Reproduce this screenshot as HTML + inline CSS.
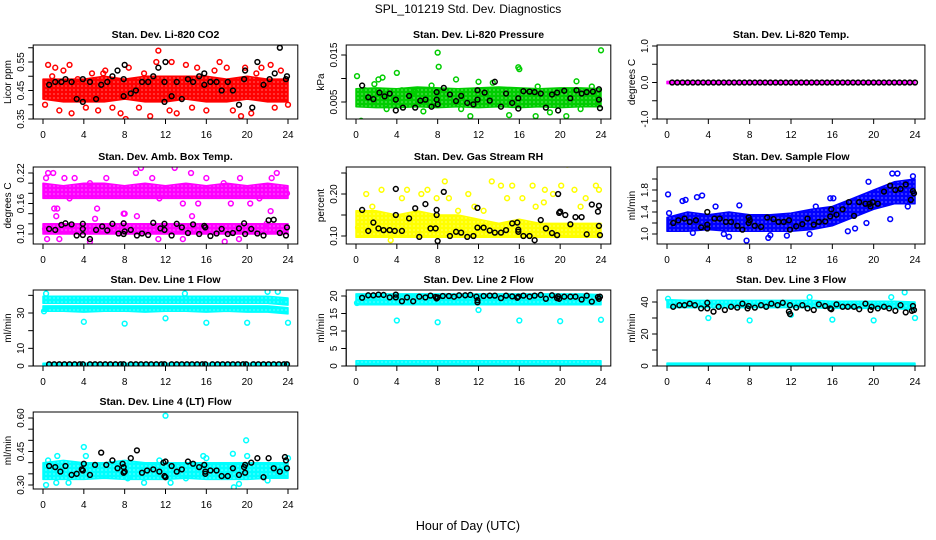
<!DOCTYPE html>
<html><head><meta charset="utf-8"><style>
html,body{margin:0;padding:0;background:#fff;}
svg{display:block;font-family:"Liberation Sans",Arial,sans-serif;}
</style></head><body>
<svg id="chart" width="936" height="540" viewBox="0 0 936 540">
<defs id="defs"></defs>
<text x="468" y="13" text-anchor="middle" font-size="12">SPL_101219  Std. Dev. Diagnostics</text>
<text x="468" y="530" text-anchor="middle" font-size="12.5">Hour of Day (UTC)</text>
</svg>
<script>
// ---------- data ----------
const bandHours = [0,2,4,6,8,10,12,14,16,18,20,22,24];
const xTicks = [0,4,8,12,16,20,24];

const co2BandLo = [0.42,0.41,0.41,0.41,0.42,0.41,0.41,0.42,0.41,0.41,0.42,0.41,0.41];
const co2BandHi = [0.49,0.49,0.49,0.50,0.49,0.50,0.50,0.50,0.50,0.49,0.50,0.49,0.49];
const co2Color = [[0.2,0.40],[0.5,0.54],[1.2,0.53],[1.6,0.38],[2.0,0.52],[2.6,0.54],[2.8,0.37],[3.4,0.49],[4.2,0.39],[4.8,0.51],[5.4,0.38],[6.1,0.52],[6.8,0.39],[7.6,0.37],[8.1,0.35],[8.4,0.53],[9.4,0.39],[10.5,0.36],[11.1,0.55],[11.3,0.59],[12.4,0.38],[12.6,0.55],[13.1,0.37],[14.0,0.54],[14.6,0.39],[15.1,0.53],[16.0,0.38],[17.3,0.55],[18.0,0.53],[18.6,0.38],[19.4,0.36],[19.8,0.53],[20.4,0.37],[21.4,0.53],[22.3,0.54],[22.7,0.39],[23.3,0.52],[24.0,0.40],[0.9,0.50],[5.9,0.51],[9.9,0.51],[16.8,0.52],[20.9,0.51]];
const co2Black = [[0.6,0.47],[1.2,0.48],[1.8,0.48],[2.2,0.49],[2.8,0.48],[3.3,0.42],[3.9,0.49],[3.9,0.41],[4.6,0.48],[5.2,0.42],[5.7,0.47],[6.3,0.48],[6.8,0.50],[7.3,0.52],[7.9,0.49],[8.0,0.54],[7.9,0.43],[8.6,0.44],[9.1,0.45],[9.7,0.48],[10.3,0.48],[10.8,0.50],[11.3,0.53],[11.9,0.48],[11.9,0.41],[12.0,0.55],[12.6,0.43],[13.1,0.48],[13.6,0.42],[14.2,0.49],[14.7,0.48],[15.3,0.50],[15.8,0.51],[15.8,0.47],[16.4,0.48],[17.0,0.48],[17.5,0.45],[18.1,0.48],[18.6,0.45],[19.2,0.40],[19.7,0.49],[19.8,0.52],[20.5,0.39],[21.0,0.55],[21.6,0.47],[22.2,0.49],[22.7,0.51],[23.2,0.60],[23.8,0.49],[23.9,0.50]];

const presBandLo = [0.0040,0.0038,0.0038,0.0040,0.0038,0.0040,0.0038,0.0040,0.0038,0.0040,0.0038,0.0040,0.0040];
const presBandHi = [0.0078,0.0080,0.0078,0.0082,0.0080,0.0078,0.0080,0.0082,0.0080,0.0078,0.0080,0.0080,0.0078];
const presColor = [[0.1,0.0105],[0.5,0.001],[0.9,0.0075],[1.8,0.0088],[2.2,0.0098],[2.6,0.0102],[4.0,0.0112],[4.5,0.0075],[5.8,0.0072],[7.4,0.0085],[8.0,0.0155],[8.1,0.0125],[9.8,0.0098],[10.3,0.0035],[11.2,0.0020],[12.0,0.0093],[13.4,0.0091],[15.0,0.0022],[15.9,0.0124],[16.0,0.0120],[17.6,0.0020],[17.8,0.0083],[20.6,0.0020],[21.6,0.0094],[23.1,0.0083],[24.0,0.0160],[22.0,0.0035],[3.0,0.0035],[6.6,0.0030],[19.0,0.0028]];
const presBlack = [[0.6,0.0085],[1.2,0.0060],[1.7,0.0056],[2.3,0.0070],[2.8,0.0062],[3.3,0.0068],[3.9,0.0055],[3.9,0.0032],[4.6,0.0038],[5.2,0.0063],[5.8,0.0038],[6.3,0.0053],[6.8,0.0055],[7.4,0.0040],[7.9,0.0071],[7.9,0.0055],[8.0,0.0045],[8.6,0.0080],[9.2,0.0066],[9.8,0.0052],[10.3,0.0063],[10.9,0.0048],[11.5,0.0045],[11.9,0.0075],[11.9,0.0055],[12.6,0.0070],[13.1,0.0053],[13.6,0.0093],[14.2,0.0040],[14.7,0.0068],[15.3,0.0048],[15.9,0.0058],[15.9,0.0036],[16.4,0.0073],[17.0,0.0072],[17.5,0.0071],[18.1,0.0068],[18.6,0.0038],[19.2,0.0066],[19.7,0.0070],[19.8,0.0032],[20.4,0.0074],[21.0,0.0058],[21.6,0.0075],[22.1,0.0068],[22.6,0.0071],[23.2,0.0072],[23.8,0.0077],[23.8,0.0055],[23.9,0.0037]];

const tempBandLo = [-0.03,-0.03,-0.03,-0.03,-0.03,-0.03,-0.03,-0.03,-0.03,-0.03,-0.03,-0.03,-0.03];
const tempBandHi = [0.03,0.03,0.03,0.03,0.03,0.03,0.03,0.03,0.03,0.03,0.03,0.03,0.03];
const tempBlackX = [0.5,1,1.5,2,2.5,3,3.5,4,4.5,5,5.5,6,6.5,7,7.5,8,8.5,9,9.5,10,10.5,11,11.5,12,12.5,13,13.5,14,14.5,15,15.5,16,16.5,17,17.5,18,18.5,19,19.5,20,20.5,21,21.5,22,22.5,23,23.5,24];
const tempBlackY = [0,0,0,0,0,0,0,0,0,0,0,0,0,0,0,0,0,0,0,0,0,0,0,0,0,0,0,0,0,0,0,0,0,0,0,0,0,0,0,0,0,0,0,0,0,0,0,0];

const ambBandHiLo = [0.17,0.17,0.17,0.17,0.17,0.17,0.17,0.17,0.17,0.17,0.17,0.17,0.17];
const ambBandHiHi = [0.20,0.195,0.20,0.20,0.195,0.20,0.195,0.20,0.195,0.20,0.195,0.20,0.195];
const ambBandLoLo = [0.10,0.10,0.10,0.10,0.10,0.10,0.10,0.10,0.10,0.10,0.10,0.10,0.10];
const ambBandLoHi = [0.12,0.12,0.12,0.12,0.12,0.12,0.12,0.12,0.12,0.12,0.12,0.12,0.12];
const ambColor = [[0.3,0.21],[0.5,0.22],[1.0,0.22],[1.4,0.15],[1.1,0.15],[2.1,0.21],[2.6,0.17],[3.1,0.21],[4.6,0.20],[5.3,0.15],[6.2,0.21],[7.9,0.14],[9.1,0.22],[9.6,0.23],[10.7,0.21],[11.4,0.17],[12.9,0.23],[13.7,0.16],[14.5,0.22],[15.2,0.16],[16.0,0.21],[17.7,0.20],[18.4,0.16],[19.3,0.21],[20.3,0.16],[21.2,0.17],[22.4,0.21],[22.9,0.22],[23.9,0.18],[1.3,0.135],[8.0,0.14],[14.6,0.135],[9.2,0.135],[22.3,0.145],[0.2,0.11],[0.4,0.09],[1.6,0.09],[4.6,0.085],[5.1,0.13],[7.9,0.12],[11.3,0.09],[13.7,0.09],[17.8,0.085],[19.2,0.09],[21.9,0.12]];
const ambBlack = [[0.6,0.11],[1.2,0.108],[1.8,0.118],[2.2,0.121],[2.8,0.119],[3.3,0.097],[3.9,0.12],[3.9,0.11],[3.9,0.098],[4.6,0.09],[5.2,0.108],[5.8,0.115],[6.3,0.107],[6.8,0.12],[7.4,0.101],[7.9,0.121],[7.9,0.1],[8.0,0.105],[8.6,0.108],[9.2,0.097],[9.7,0.101],[10.3,0.098],[10.8,0.122],[11.5,0.111],[11.9,0.12],[11.9,0.108],[12.6,0.097],[13.1,0.12],[13.6,0.113],[14.2,0.102],[14.7,0.119],[15.3,0.1],[15.8,0.116],[15.9,0.113],[16.4,0.096],[17.0,0.101],[17.5,0.11],[18.1,0.1],[18.6,0.102],[19.2,0.111],[19.7,0.121],[19.8,0.1],[20.4,0.11],[21.0,0.101],[21.6,0.097],[22.1,0.127],[22.6,0.128],[23.2,0.102],[23.8,0.097],[23.9,0.113]];

const rhBandLo = [0.097,0.097,0.097,0.097,0.097,0.097,0.097,0.097,0.097,0.097,0.097,0.097,0.097];
const rhBandHi = [0.16,0.16,0.15,0.16,0.15,0.15,0.14,0.13,0.14,0.13,0.13,0.13,0.13];
const rhColor = [[0.2,0.12],[1.0,0.20],[1.6,0.17],[2.5,0.21],[3.4,0.09],[4.5,0.19],[5.0,0.21],[6.4,0.20],[7.0,0.21],[7.9,0.19],[8.7,0.23],[9.1,0.19],[10.0,0.16],[11.0,0.2],[11.6,0.17],[13.3,0.23],[14.2,0.22],[14.8,0.19],[15.3,0.22],[16.3,0.19],[17.3,0.22],[17.6,0.17],[18.5,0.21],[19.3,0.2],[20.1,0.22],[20.7,0.27],[21.4,0.21],[22.0,0.17],[22.5,0.19],[23.5,0.22],[23.8,0.21],[12.5,0.16],[18.4,0.18]];
const rhBlack = [[0.6,0.162],[1.2,0.112],[1.7,0.132],[2.2,0.118],[2.7,0.114],[3.3,0.114],[3.8,0.112],[3.9,0.15],[3.9,0.212],[4.5,0.112],[5.2,0.142],[5.8,0.166],[6.2,0.098],[6.8,0.176],[7.3,0.118],[7.8,0.118],[7.9,0.162],[7.9,0.15],[8.0,0.088],[8.6,0.205],[9.2,0.1],[9.8,0.11],[10.3,0.108],[10.9,0.098],[11.5,0.1],[11.9,0.167],[11.9,0.12],[12.5,0.12],[13.1,0.113],[13.6,0.108],[14.2,0.108],[14.7,0.114],[15.3,0.13],[15.8,0.132],[15.9,0.115],[15.9,0.11],[16.4,0.1],[17.0,0.1],[17.5,0.09],[18.1,0.138],[18.6,0.118],[19.2,0.107],[19.7,0.102],[19.8,0.2],[19.9,0.155],[20.0,0.158],[20.5,0.15],[21.0,0.128],[21.5,0.145],[22.1,0.145],[22.6,0.104],[23.1,0.175],[23.7,0.158],[23.8,0.172],[23.8,0.124],[23.9,0.102]];

const flowBandLo = [1.05,1.05,1.08,1.05,1.05,1.05,1.05,1.08,1.15,1.3,1.45,1.55,1.55];
const flowBandHi = [1.3,1.4,1.35,1.4,1.35,1.35,1.38,1.45,1.5,1.65,1.8,1.95,2.0];
const flowColor = [[0.1,1.72],[0.2,1.38],[1.5,1.6],[1.8,1.62],[2.9,1.67],[3.4,1.7],[4.7,1.5],[6.0,0.95],[7.7,0.88],[7.0,1.52],[9.8,0.93],[10.0,0.98],[11.6,0.97],[14.4,1.5],[15.8,1.65],[16.1,1.65],[18.2,1.1],[19.3,1.2],[19.5,1.95],[21.6,1.27],[21.8,2.1],[22.3,2.1],[23.8,2.05],[23.3,1.5],[17.5,1.05],[13.8,1.0],[5.5,1.0],[2.5,1.02]];
const flowBlack = [[0.6,1.2],[1.1,1.25],[1.7,1.28],[2.2,1.22],[2.8,1.25],[3.3,1.12],[3.9,1.1],[3.9,1.17],[3.9,1.4],[4.6,1.28],[5.1,1.28],[5.7,1.22],[6.2,1.22],[6.8,1.15],[7.3,1.08],[7.9,1.3],[7.9,1.2],[8.0,1.25],[8.5,1.15],[9.1,1.13],[9.7,1.3],[10.3,1.27],[10.8,1.22],[11.3,1.22],[11.8,1.25],[11.9,1.08],[12.5,1.14],[13.1,1.18],[13.6,1.28],[14.2,1.17],[14.7,1.22],[15.3,1.23],[15.8,1.32],[15.9,1.45],[16.4,1.35],[17.0,1.45],[17.6,1.58],[18.1,1.33],[18.6,1.58],[19.2,1.55],[19.6,1.55],[19.7,1.5],[19.9,1.58],[20.4,1.55],[21.0,1.77],[21.6,1.88],[22.1,1.8],[22.6,1.82],[23.1,1.9],[23.6,1.62],[23.8,1.78],[23.9,1.74]];

const l1BandALo = [35.5,35.5,35.5,35.5,35.5,35.5,35.5,35.5,35.5,35.5,35.5,35.5,34.5];
const l1BandAHi = [39.5,39.5,39.5,39.5,39.5,39.5,39.5,39.5,39.5,39.5,39.5,39.5,38.5];
const l1BandBLo = [31,31,30.5,31,31,30.5,31,31,30.5,31,30.5,30.5,29.5];
const l1BandBHi = [34,34,34,34,34,34,34,34,34,34,34,34,33];
const l1BandZLo = [0.3,0.3,0.3,0.3,0.3,0.3,0.3,0.3,0.3,0.3,0.3,0.3,0.3];
const l1BandZHi = [1.6,1.6,1.6,1.6,1.6,1.6,1.6,1.6,1.6,1.6,1.6,1.6,1.6];
const l1Color = [[0.1,31],[0.3,41],[4.0,25],[8.0,24],[12.0,27],[16.0,24.5],[20.0,24.5],[24.0,24.5],[13.9,41],[22.0,42],[23.0,42],[23.7,36]];
const l1BlackX = [0.6,1.1,1.6,2.1,2.6,3.1,3.6,3.9,4.6,5.1,5.6,6.1,6.6,7.1,7.6,7.9,8.6,9.1,9.6,10.1,10.6,11.1,11.6,11.9,12.6,13.1,13.6,14.1,14.6,15.1,15.6,15.9,16.6,17.1,17.6,18.1,18.6,19.1,19.6,19.9,20.6,21.1,21.6,22.1,22.6,23.1,23.6,23.9];
const l1BlackY = [1,1,1,1,1,1,1,1,1,1,1,1,1,1,1,1,1,1,1,1,1,1,1,1,1,1,1,1,1,1,1,1,1,1,1,1,1,1,1,1,1,1,1,1,1,1,1,1];

const l2BandLo = [17.5,17.5,17.5,17.5,17.5,17.5,17.5,17.5,17.5,17.5,17.5,17.5,17.5];
const l2BandHi = [20.6,20.6,20.6,20.6,20.6,20.6,20.6,20.6,20.6,20.6,20.6,20.6,20.4];
const l2BandZLo = [0.1,0.1,0.1,0.1,0.1,0.1,0.1,0.1,0.1,0.1,0.1,0.1,0.1];
const l2BandZHi = [1.5,1.5,1.5,1.5,1.5,1.5,1.5,1.5,1.5,1.5,1.5,1.5,1.5];
const l2Color = [[0.1,18],[4,13],[8,12.5],[12,16],[16,13],[20,12.8],[24,13.2]];
const l2Black = [[0.6,19.5],[1.2,20.2],[1.7,20.2],[2.2,20.4],[2.7,20.3],[3.3,19.6],[3.9,20.4],[3.9,19.6],[4.5,18.5],[5.0,19.6],[5.6,18.5],[6.2,19.8],[6.8,19.6],[7.3,20.1],[7.8,19.7],[7.9,19.3],[8.0,19.6],[8.5,20],[9.1,20],[9.6,19.8],[10.1,20.2],[10.7,20.2],[11.2,20.3],[11.8,19.8],[11.9,18.8],[11.9,18.2],[12.5,20.0],[13.1,20.1],[13.6,20.1],[14.2,19.4],[14.7,20.1],[15.3,19.9],[15.8,19.5],[15.9,19.8],[16.4,20.1],[17.0,19.8],[17.5,20.1],[18.1,20.3],[18.6,19.2],[19.2,20.2],[19.7,19.4],[19.8,19.9],[19.9,19.2],[20.4,19.8],[21.0,19.8],[21.5,19.8],[22.1,19],[22.6,20.1],[23.1,18.4],[23.7,19.7],[23.8,19.2],[23.9,19.8]];

const l3BandLo = [36.5,36.5,36.5,36.5,36.5,36.5,36.5,36.5,36,36,36,36,35];
const l3BandHi = [41.5,41,41,41,41,41,41,41,40.5,40.5,40.5,40.5,40];
const l3BandZLo = [0.3,0.3,0.3,0.3,0.3,0.3,0.3,0.3,0.3,0.3,0.3,0.3,0.3];
const l3BandZHi = [1.8,1.8,1.8,1.8,1.8,1.8,1.8,1.8,1.8,1.8,1.8,1.8,1.8];
const l3Color = [[0.1,42],[4,30],[8,28.5],[12,32],[16,29],[20,28.5],[24,30],[21.7,43],[23,46],[13.8,43]];
const l3Black = [[0.6,37],[1.2,38],[1.7,38],[2.2,39],[2.7,38],[3.3,36],[3.9,36],[3.9,39.5],[4.5,34],[5.0,37],[5.6,35],[6.2,37],[6.8,36.5],[7.3,39],[7.8,36],[7.9,37.5],[8.5,36.5],[9.1,38],[9.6,37],[10.1,39],[10.7,38],[11.2,39.5],[11.8,34],[11.9,32.5],[11.9,38],[12.5,36.5],[13.1,38],[13.6,36],[14.2,35],[14.7,38.5],[15.3,37.5],[15.8,36],[15.9,35.5],[16.4,38.5],[17.0,37],[17.5,37],[18.1,37],[18.6,35.5],[19.2,39],[19.7,35],[19.8,37],[20.4,36],[21.0,37],[21.5,36],[22.1,34.5],[22.6,38],[23.1,33.5],[23.7,34.5],[23.8,37.5],[23.9,35]];

const l4BandLo = [0.325,0.325,0.325,0.33,0.325,0.325,0.325,0.33,0.325,0.325,0.325,0.33,0.33];
const l4BandHi = [0.40,0.41,0.40,0.40,0.41,0.40,0.40,0.40,0.40,0.40,0.40,0.40,0.40];
const l4Color = [[0.3,0.3],[1.3,0.31],[4.0,0.47],[4.2,0.43],[8.3,0.33],[9.9,0.31],[12.0,0.61],[12.5,0.31],[16.0,0.42],[18.6,0.44],[18.7,0.29],[19.2,0.305],[19.9,0.50],[20.0,0.43],[24.0,0.42],[2.5,0.31],[22,0.32],[14,0.33],[0.5,0.41],[1.4,0.43],[11.4,0.41],[15.7,0.43]];
const l4Black = [[0.6,0.385],[1.2,0.38],[1.7,0.36],[2.2,0.385],[2.8,0.345],[3.3,0.35],[3.8,0.37],[3.9,0.365],[4.0,0.395],[4.6,0.345],[5.1,0.39],[5.7,0.445],[6.2,0.39],[6.8,0.41],[7.3,0.375],[7.8,0.395],[7.9,0.38],[7.9,0.355],[8.0,0.36],[8.6,0.42],[9.2,0.455],[9.7,0.355],[10.2,0.365],[10.8,0.37],[11.4,0.36],[11.8,0.4],[11.9,0.34],[12.0,0.335],[12.0,0.405],[12.6,0.385],[13.1,0.36],[13.6,0.37],[14.2,0.405],[14.7,0.395],[15.3,0.38],[15.8,0.39],[15.9,0.36],[15.9,0.35],[16.4,0.365],[17.0,0.365],[17.5,0.34],[18.1,0.34],[18.6,0.375],[19.2,0.345],[19.7,0.38],[19.8,0.39],[19.8,0.355],[20.4,0.4],[21.0,0.42],[21.6,0.335],[22.1,0.42],[22.6,0.375],[23.2,0.36],[23.7,0.425],[23.8,0.41],[23.9,0.375]];

const zip = (xs, ys) => xs.map((x, i) => [x, ys[i]]);

// ---------- layout ----------
const cols = [{x0:43,x24:288},{x0:356,x24:601},{x0:667,x24:915}];
const rows = [{top:45,bot:119},{top:167,bot:244},{top:290,bot:366},{top:412,bot:489}];

const panels = [
 {name:'co2',title:'Stan. Dev. Li-820 CO2',ylab:'Licor ppm',c:0,r:0,color:'#ff0000',ref:[[0.55,62],[0.35,119]],ticks:[0.35,0.40,0.45,0.50,0.55,0.60],labels:[[0.35,'0.35'],[0.45,'0.45'],[0.55,'0.55']],bands:[[co2BandLo,co2BandHi]],pts:co2Color,blk:co2Black},
 {name:'pressure',title:'Stan. Dev. Li-820 Pressure',ylab:'kPa',c:1,r:0,color:'#00cd00',ref:[[0.015,55],[0.005,102]],ticks:[0.005,0.010,0.015],labels:[[0.005,'0.005'],[0.015,'0.015']],bands:[[presBandLo,presBandHi]],pts:presColor,blk:presBlack},
 {name:'li820-temp',title:'Stan. Dev. Li-820 Temp.',ylab:'degrees C',c:2,r:0,color:'#ff00ff',ref:[[1,46],[-1,119]],ticks:[-1,-0.5,0,0.5,1],labels:[[-1,'-1.0'],[0,'0.0'],[1,'1.0']],bands:[[tempBandLo,tempBandHi]],pts:[],blk:zip(tempBlackX,tempBlackY)},
 {name:'amb-box-temp',title:'Stan. Dev. Amb. Box Temp.',ylab:'degrees C',c:0,r:1,color:'#ff00ff',ref:[[0.22,173],[0.10,234]],ticks:[0.10,0.12,0.14,0.16,0.18,0.20,0.22],labels:[[0.10,'0.10'],[0.16,'0.16'],[0.22,'0.22']],bands:[[ambBandHiLo,ambBandHiHi],[ambBandLoLo,ambBandLoHi]],pts:ambColor,blk:ambBlack},
 {name:'gas-stream-rh',title:'Stan. Dev. Gas Stream RH',ylab:'percent',c:1,r:1,color:'#ffff00',ref:[[0.20,194],[0.10,236]],ticks:[0.10,0.15,0.20,0.25],labels:[[0.10,'0.10'],[0.20,'0.20']],bands:[[rhBandLo,rhBandHi]],pts:rhColor,blk:rhBlack},
 {name:'sample-flow',title:'Stan. Dev. Sample Flow',ylab:'ml/min',c:2,r:1,color:'#0000ff',ref:[[1.8,190],[1.0,234]],ticks:[1.0,1.2,1.4,1.6,1.8,2.0],labels:[[1.0,'1.0'],[1.4,'1.4'],[1.8,'1.8']],bands:[[flowBandLo,flowBandHi]],pts:flowColor,blk:flowBlack},
 {name:'line1-flow',title:'Stan. Dev. Line 1 Flow',ylab:'ml/min',c:0,r:2,color:'#00ffff',ref:[[30,313],[0,366]],ticks:[0,10,20,30,40],labels:[[0,'0'],[10,'10'],[30,'30']],bands:[[l1BandALo,l1BandAHi],[l1BandBLo,l1BandBHi],[l1BandZLo,l1BandZHi]],pts:l1Color,blk:zip(l1BlackX,l1BlackY)},
 {name:'line2-flow',title:'Stan. Dev. Line 2 Flow',ylab:'ml/min',c:1,r:2,color:'#00ffff',ref:[[20,296],[0,366]],ticks:[0,5,10,15,20],labels:[[0,'0'],[5,'5'],[10,'10'],[15,'15'],[20,'20']],bands:[[l2BandLo,l2BandHi],[l2BandZLo,l2BandZHi]],pts:l2Color,blk:l2Black},
 {name:'line3-flow',title:'Stan. Dev. Line 3 Flow',ylab:'ml/min',c:2,r:2,color:'#00ffff',ref:[[40,302],[0,366]],ticks:[0,10,20,30,40],labels:[[0,'0'],[20,'20'],[40,'40']],bands:[[l3BandLo,l3BandHi],[l3BandZLo,l3BandZHi]],pts:l3Color,blk:l3Black},
 {name:'line4-flow',title:'Stan. Dev. Line 4 (LT) Flow',ylab:'ml/min',c:0,r:3,color:'#00ffff',ref:[[0.60,418],[0.30,485]],ticks:[0.30,0.35,0.40,0.45,0.50,0.55,0.60],labels:[[0.30,'0.30'],[0.45,'0.45'],[0.60,'0.60']],bands:[[l4BandLo,l4BandHi]],pts:l4Color,blk:l4Black}
];

const NS = 'http://www.w3.org/2000/svg';
const svg = document.getElementById('chart');
const defs = document.getElementById('defs');
function el(tag, attrs, parent) {
  const e = document.createElementNS(NS, tag);
  for (const k in attrs) e.setAttribute(k, attrs[k]);
  parent.appendChild(e);
  return e;
}
const patterns = {};
function patternFor(color) {
  if (patterns[color]) return patterns[color];
  const id = 'pat' + Object.keys(patterns).length;
  const pat = el('pattern', {id: id, width: 4, height: 4, patternUnits: 'userSpaceOnUse'}, defs);
  el('rect', {x: 0, y: 0, width: 4, height: 4, fill: color}, pat);
  el('rect', {x: 1.5, y: 1.5, width: 1, height: 1, fill: '#fff', 'fill-opacity': 0.8}, pat);
  patterns[color] = id;
  return id;
}

panels.forEach(p => {
  const col = cols[p.c], row = rows[p.r];
  const xs = h => col.x0 + (col.x24 - col.x0) * h / 24;
  const [[v1, p1], [v2, p2]] = p.ref;
  const ys = v => p1 + (v - v1) * (p2 - p1) / (v2 - v1);
  const bx0 = xs(-0.96), bx1 = xs(24.96);
  const g = el('g', {}, svg);
  
  

  const clipId = 'clip-' + p.name;
  const cp = el('clipPath', {id: clipId}, g);
  el('rect', {x: bx0, y: row.top, width: bx1 - bx0, height: row.bot - row.top}, cp);
  const data = el('g', {'clip-path': 'url(#' + clipId + ')'}, g);
  const pid = patternFor(p.color);

  p.bands.forEach(([lo, hi], bi) => {
    const top = bandHours.map((h, i) => xs(h).toFixed(1) + ',' + ys(hi[i]).toFixed(1));
    const bot = bandHours.map((h, i) => xs(h).toFixed(1) + ',' + ys(lo[i]).toFixed(1)).reverse();
    const poly = el('polygon', {points: top.concat(bot).join(' '), fill: 'url(#' + pid + ')', stroke: p.color, 'stroke-width': 1.5, 'stroke-linejoin': 'round'}, data);
    
    
  });
  p.pts.forEach(([h, v]) => {
    const c = el('circle', {cx: xs(h), cy: ys(v), r: 2.4, fill: 'none', stroke: p.color, 'stroke-width': 1.5}, data);
    
    
  });
  p.blk.forEach(([h, v]) => {
    const c = el('circle', {cx: xs(h), cy: ys(v), r: 2.4, fill: 'none', stroke: '#000', 'stroke-width': 1.5}, data);
    
    
  });

  const box = el('rect', {x: bx0, y: row.top, width: bx1 - bx0, height: row.bot - row.top, fill: 'none', stroke: '#000', 'stroke-width': 1}, g);
  
  

  const title = el('text', {x: (bx0 + bx1) / 2, y: row.top - 7, 'text-anchor': 'middle', 'font-size': 10.5, 'font-weight': 'bold'}, g);
  title.textContent = p.title;
  
  

  const xa = el('g', {}, g);
  
  
  el('line', {x1: xs(0), x2: xs(24), y1: row.bot, y2: row.bot, stroke: '#000'}, xa);
  xTicks.forEach(t => {
    el('line', {x1: xs(t), x2: xs(t), y1: row.bot, y2: row.bot + 5, stroke: '#000'}, xa);
    const tl = el('text', {x: xs(t), y: row.bot + 19, 'text-anchor': 'middle', 'font-size': 10}, xa);
    tl.textContent = t;
    
    
  });

  const ya = el('g', {}, g);
  
  
  const tmin = Math.min(...p.ticks), tmax = Math.max(...p.ticks);
  el('line', {x1: bx0, x2: bx0, y1: ys(tmin), y2: ys(tmax), stroke: '#000'}, ya);
  p.ticks.forEach(t => {
    el('line', {x1: bx0 - 5, x2: bx0, y1: ys(t), y2: ys(t), stroke: '#000'}, ya);
  });
  p.labels.forEach(([v, s]) => {
    const lx = bx0 - 9, ly = ys(v);
    const tl = el('text', {x: lx, y: ly, 'text-anchor': 'middle', 'font-size': 10, transform: 'rotate(-90 ' + lx + ' ' + ly + ')'}, ya);
    tl.textContent = s;
    
    
  });
  const ylx = bx0 - 22, yly = (row.top + row.bot) / 2;
  const yl = el('text', {x: ylx, y: yly, 'text-anchor': 'middle', 'font-size': 10, transform: 'rotate(-90 ' + ylx + ' ' + yly + ')'}, g);
  yl.textContent = p.ylab;
  
  
});
</script>
</body></html>
